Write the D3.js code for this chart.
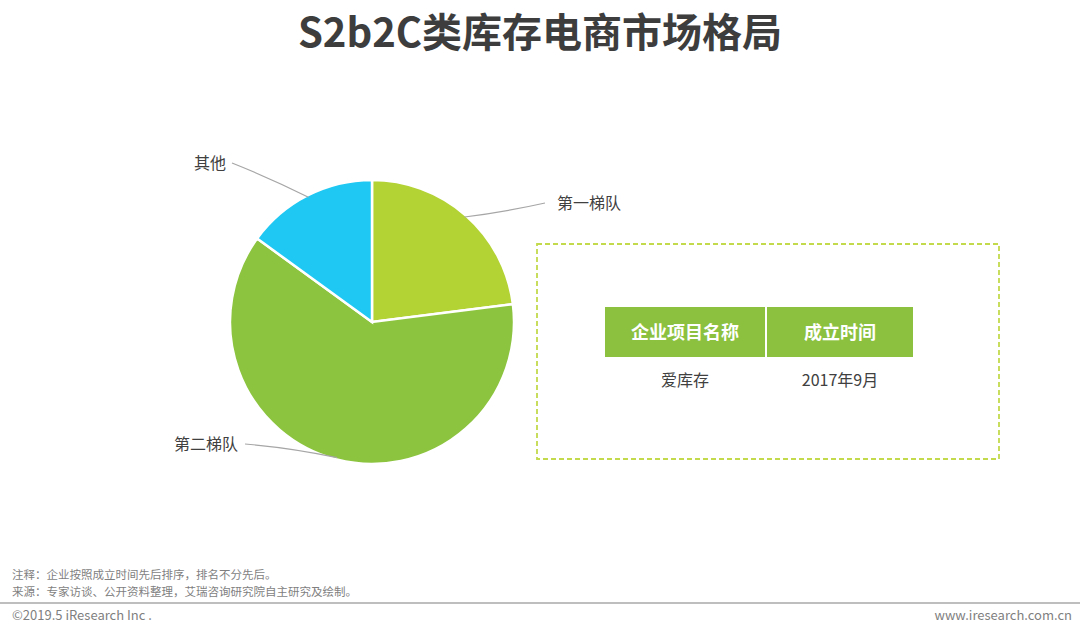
<!DOCTYPE html>
<html>
<head>
<meta charset="utf-8">
<script src="https://cdn.jsdelivr.net/npm/d3@7"></script>
<style>
  body { margin: 0; background: #fff; }
  text { font-family: "Microsoft YaHei", "Noto Sans CJK SC", sans-serif; }
</style>
</head>
<body>
<svg id="chart" width="1080" height="630"></svg>
<script>
var width = 1080,
    height = 630;

// pie data
var tiers = ['第一梯队', '第二梯队', '其他'];
var shares = [23, 62, 15];
var tierColors = ['#b3d234', '#8cc43f', '#1ec8f2'];

// table data
var tableHead = ['企业项目名称', '成立时间'];
var tableRows = [['爱库存', '2017年9月']];

var notes = ['注释：企业按照成立时间先后排序，排名不分先后。',
             '来源：专家访谈、公开资料整理，艾瑞咨询研究院自主研究及绘制。'];

var svg = d3.select("#chart");

// title
svg.append("text")
    .attr("x", width / 2)
    .attr("y", 47)
    .attr("text-anchor", "middle")
    .attr("font-size", 40)
    .attr("font-weight", "bold")
    .attr("fill", "#3d3d3d")
    .text("S2b2C类库存电商市场格局");

// pie
var cx = 372, cy = 322, r = 142;
var pie = d3.pie().sort(null).value(function (d) { return d; });
var arc = d3.arc().innerRadius(0).outerRadius(r);
var arcs = pie(shares);

var g = svg.append("g").attr("transform", "translate(" + cx + "," + cy + ")");
g.selectAll("path")
    .data(arcs)
    .enter()
    .append("path")
    .attr("d", arc)
    .attr("fill", function (d, i) { return tierColors[i]; })
    .attr("stroke", "#fff")
    .attr("stroke-width", 2.5);

// label positions (end of leader lines)
var labelPos = [
    {x: 545, y: 203, tx: 557, anchor: "start"},
    {x: 245, y: 444, tx: 238, anchor: "end"},
    {x: 232, y: 163, tx: 226, anchor: "end"}
];

arcs.forEach(function (d, i) {
    var a = (d.startAngle + d.endAngle) / 2;
    var px = cx + Math.sin(a) * (r - 2),
        py = cy - Math.cos(a) * (r - 2);
    var lp = labelPos[i];
    var mx = (px + lp.x) / 2, my = (py + lp.y) / 2 + (i == 1 ? -3 : (i == 0 ? 2 : -2));
    svg.append("path")
        .attr("d", "M" + px + "," + py + " Q" + mx + "," + my + " " + lp.x + "," + lp.y)
        .attr("fill", "none")
        .attr("stroke", "#a6a6a6")
        .attr("stroke-width", 1.2);
    svg.append("text")
        .attr("x", lp.tx)
        .attr("y", lp.y + 6)
        .attr("text-anchor", lp.anchor)
        .attr("font-size", 16)
        .attr("fill", "#404040")
        .text(tiers[i]);
});

// dashed box
svg.append("rect")
    .attr("x", 537)
    .attr("y", 244)
    .attr("width", 462)
    .attr("height", 215)
    .attr("fill", "none")
    .attr("stroke", "#c3da4c")
    .attr("stroke-width", 1.8)
    .attr("stroke-dasharray", "5,3");

// table
var colX = [605, 767], colW = [160, 146];
svg.selectAll(".head")
    .data(tableHead)
    .enter()
    .append("rect")
    .attr("x", function (d, i) { return colX[i]; })
    .attr("y", 307)
    .attr("width", function (d, i) { return colW[i]; })
    .attr("height", 50)
    .attr("fill", "#8bc13f");
svg.selectAll(".headText")
    .data(tableHead)
    .enter()
    .append("text")
    .attr("x", function (d, i) { return colX[i] + colW[i] / 2; })
    .attr("y", 339)
    .attr("text-anchor", "middle")
    .attr("font-size", 18)
    .attr("font-weight", "bold")
    .attr("fill", "#fff")
    .text(function (d) { return d; });
tableRows.forEach(function (row, j) {
    row.forEach(function (cell, i) {
        svg.append("text")
            .attr("x", colX[i] + colW[i] / 2)
            .attr("y", 386 + j * 30)
            .attr("text-anchor", "middle")
            .attr("font-size", 16)
            .attr("fill", "#404040")
            .text(cell);
    });
});

// notes & footer
notes.forEach(function (n, i) {
    svg.append("text")
        .attr("x", 12)
        .attr("y", 579 + i * 17)
        .attr("font-size", 11.5)
        .attr("fill", "#7f7f7f")
        .text(n);
});
svg.append("line")
    .attr("x1", 0).attr("x2", width)
    .attr("y1", 603).attr("y2", 603)
    .attr("stroke", "#7f7f7f")
    .attr("stroke-width", 1.2);
svg.append("text")
    .attr("x", 12).attr("y", 620)
    .attr("font-size", 13).attr("fill", "#7f7f7f")
    .text("©2019.5 iResearch Inc .");
svg.append("text")
    .attr("x", 1072).attr("y", 620)
    .attr("text-anchor", "end")
    .attr("font-size", 13).attr("fill", "#7f7f7f")
    .text("www.iresearch.com.cn");
</script>
</body>
</html>
